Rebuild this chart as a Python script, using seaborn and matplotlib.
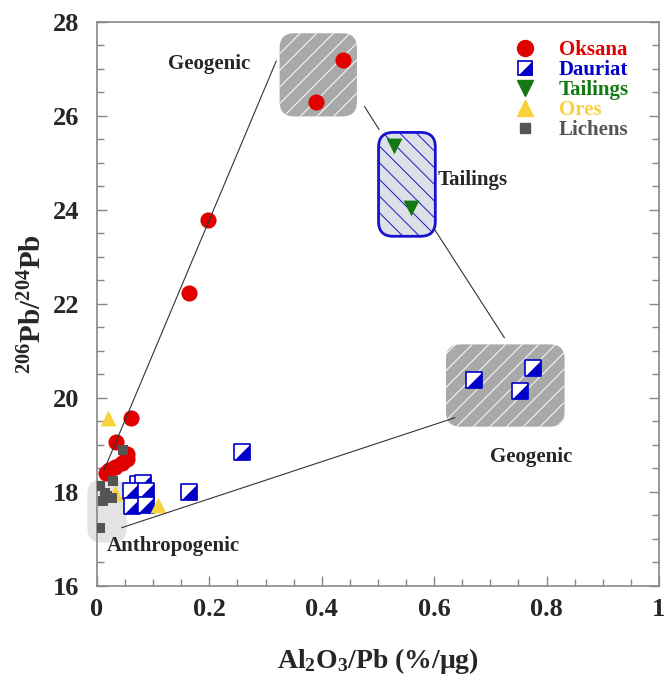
import matplotlib
matplotlib.use("Agg")
import matplotlib.pyplot as plt
from matplotlib.patches import FancyBboxPatch
from matplotlib.lines import Line2D
from matplotlib.ticker import MultipleLocator
import pandas as pd
import seaborn as sns

# --- data ---
oksana_x = [0.438, 0.39, 0.198, 0.163, 0.06, 0.034, 0.053, 0.053, 0.044, 0.032, 0.022, 0.016]
oksana_y = [27.2, 26.3, 23.78, 22.24, 19.58, 19.06, 18.81, 18.71, 18.61, 18.53, 18.46, 18.41]

dauriat_x = [0.073, 0.082, 0.67, 0.776, 0.752, 0.258, 0.163, 0.061, 0.088, 0.063, 0.088]
dauriat_y = [18.16, 18.2, 20.38, 20.63, 20.14, 18.86, 18.0, 18.02, 18.02, 17.7, 17.73]

tailings_x = [0.529, 0.559]
tailings_y = [25.36, 24.05]

ores_x = [0.02, 0.032, 0.108]
ores_y = [19.58, 17.98, 17.72]

lichens_x = [0.047, 0.028, 0.005, 0.014, 0.026, 0.011, 0.018, 0.005]
lichens_y = [18.9, 18.23, 18.12, 17.98, 17.88, 17.8, 17.92, 17.24]

groups = ["Oksana", "Dauriat", "Tailings", "Ores", "Lichens"]
colors = ["#e10000", "#0000c8", "#137a13", "#f8d23a", "#555555"]

# field boxes: (x0, x1, y0, y1)
box_geo_top = (0.325, 0.4625, 25.99, 27.76)
box_tailings = (0.501, 0.602, 23.44, 25.65)
box_geo_low = (0.621, 0.832, 19.39, 21.14)
box_anthro = (-0.017, 0.053, 16.92, 18.27)

# mixing lines between the fields: ((x0, x1), (y0, y1))
mix_lines = [
    ((0.012, 0.319), (18.45, 27.17)),
    ((0.476, 0.502), (26.2, 25.71)),
    ((0.601, 0.725), (23.58, 21.28)),
    ((0.044, 0.637), (17.24, 19.58)),
]

# field names: (text, x, y, ha)
field_labels = [
    ("Geogenic", 0.2, 27.1, "center"),
    ("Tailings", 0.607, 24.63, "left"),
    ("Geogenic", 0.773, 18.75, "center"),
    ("Anthropogenic", 0.017, 16.85, "left"),
]

half_square = [(-1, -1), (1, -1), (1, 1), (-1, -1)]

sns.set_style("ticks")
plt.rcParams["font.family"] = ["Liberation Serif", "DejaVu Serif"]
plt.rcParams["font.weight"] = "bold"
plt.rcParams["mathtext.fontset"] = "custom"
plt.rcParams["mathtext.rm"] = "Liberation Serif:bold"
plt.rcParams["mathtext.bf"] = "Liberation Serif:bold"
plt.rcParams["mathtext.it"] = "Liberation Serif:bold:italic"
plt.rcParams["hatch.linewidth"] = 0.7

fig = plt.figure(figsize=(6.67, 6.86), dpi=100)
ax = fig.add_axes([0.1454, 0.1458, 0.8426, 0.8222])


def add_box(b, face, edge="white", lw=0, hatch=None, z=1):
    x0, x1, y0, y1 = b
    p = FancyBboxPatch((x0, y0), x1 - x0, y1 - y0,
                       boxstyle="round,pad=0,rounding_size=0.026",
                       mutation_aspect=12.0, facecolor=face, edgecolor=edge,
                       linewidth=lw, hatch=hatch, zorder=z, clip_on=False)
    ax.add_patch(p)


add_box(box_anthro, "#e3e3e3")
add_box(box_geo_top, "#a9a9a9", hatch="//")
add_box(box_geo_low, "#a9a9a9", hatch="//")
add_box(box_tailings, "#dde0e6", edge="#1515d0", lw=2, hatch="\\\\")

for xs, ys in mix_lines:
    ax.plot(xs, ys, color="#333333", lw=0.8, zorder=4)

# scatter groups
df_oks = pd.DataFrame({"x": oksana_x, "y": oksana_y})
df_dau = pd.DataFrame({"x": dauriat_x, "y": dauriat_y})
df_tai = pd.DataFrame({"x": tailings_x, "y": tailings_y})
df_ore = pd.DataFrame({"x": ores_x, "y": ores_y})
df_lic = pd.DataFrame({"x": lichens_x, "y": lichens_y})

sns.scatterplot(data=df_oks, x="x", y="y", ax=ax, marker="o", s=135,
                color=colors[0], linewidth=0, zorder=3)
for i in range(len(df_dau)):
    row = df_dau.iloc[[i]]
    sns.scatterplot(data=row, x="x", y="y", ax=ax, marker="s", s=125,
                    color="white", edgecolor=colors[1], linewidth=1.2, zorder=3)
    sns.scatterplot(data=row, x="x", y="y", ax=ax, marker=half_square, s=125,
                    color=colors[1], linewidth=0, zorder=3)
sns.scatterplot(data=df_tai, x="x", y="y", ax=ax, marker="v", s=130,
                color=colors[2], linewidth=0, zorder=3)
sns.scatterplot(data=df_ore, x="x", y="y", ax=ax, marker="^", s=130,
                color=colors[3], linewidth=0, zorder=3)
sns.scatterplot(data=df_lic, x="x", y="y", ax=ax, marker="s", s=45,
                color=colors[4], linewidth=0, zorder=3)

for txt, x, y, ha in field_labels:
    ax.text(x, y, txt, ha=ha, va="center", fontsize=15, fontweight="bold", zorder=5)

# legend
handles = [
    Line2D([], [], ls="", marker="o", ms=11.5, color=colors[0]),
    (Line2D([], [], ls="", marker="s", ms=10.5, mfc="white", mec=colors[1], mew=1.2),
     Line2D([], [], ls="", marker=half_square, ms=10.5, mfc=colors[1], mec=colors[1], mew=0)),
    Line2D([], [], ls="", marker="v", ms=11, color=colors[2]),
    Line2D([], [], ls="", marker="^", ms=11, color=colors[3]),
    Line2D([], [], ls="", marker="s", ms=7, color=colors[4]),
]
leg = ax.legend(handles, groups, loc="upper left", bbox_to_anchor=(0.74, 0.968),
                frameon=False, borderpad=0, borderaxespad=0, handlelength=1.2,
                handletextpad=1.0, labelspacing=0.0,
                prop={"family": "Liberation Serif", "weight": "bold", "size": 15})
for t, c in zip(leg.get_texts(), colors):
    t.set_color(c)

ax.set_xlim(0, 1)
ax.set_ylim(16, 28)
ax.xaxis.set_major_locator(MultipleLocator(0.2))
ax.xaxis.set_minor_locator(MultipleLocator(0.05))
ax.yaxis.set_major_locator(MultipleLocator(2))
ax.yaxis.set_minor_locator(MultipleLocator(0.5))
ax.set_xticks([0, 0.2, 0.4, 0.6, 0.8, 1.0])
ax.set_xticklabels(["0", "0.2", "0.4", "0.6", "0.8", "1"])

ax.tick_params(which="both", direction="in", color="#888888", right=True, top=False)
ax.tick_params(which="major", length=7, width=1.0, labelsize=19)
ax.tick_params(which="minor", length=5, width=1.0)
ax.tick_params(axis="x", pad=9)
ax.tick_params(axis="y", pad=13)
for lab in ax.get_xticklabels() + ax.get_yticklabels():
    lab.set_fontweight("bold")
for sp in ax.spines.values():
    sp.set_color("#888888")
    sp.set_linewidth(1.2)

ax.set_xlabel(r"$\mathrm{Al_2O_3}$/Pb (%/μg)", fontsize=20, fontweight="bold", labelpad=18)
ax.set_ylabel(r"$\mathrm{^{206}Pb/^{204}Pb}$", fontsize=21, fontweight="bold", labelpad=4)

fig.savefig("out.png", dpi=100)
